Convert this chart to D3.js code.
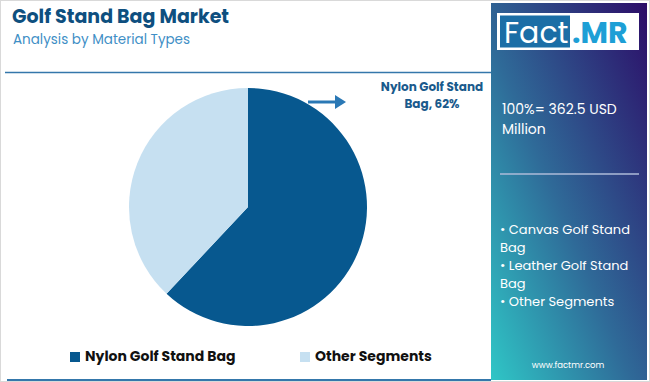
<!DOCTYPE html>
<html>
<head>
<meta charset="utf-8">
<script src="https://cdn.jsdelivr.net/npm/d3@7"></script>
<style>
  body { margin: 0; background: #fff; }
  svg { display: block; font-family: "Poppins", "Inter", "Open Sans", sans-serif; }
</style>
</head>
<body>
<div id="chart"></div>
<script>
var svgWidth = 650;
var svgHeight = 382;

// data
var segments = ["Nylon Golf Stand Bag", "Other Segments"];
var shares = [62, 38];
var colors = ["#07588f", "#c6e0f1"];
var otherItems = ["Canvas Golf Stand Bag", "Leather Golf Stand Bag", "Other Segments"];

var svg = d3.select("#chart")
  .append("svg")
  .attr("width", svgWidth)
  .attr("height", svgHeight);

var defs = svg.append("defs");
var grad = defs.append("linearGradient")
  .attr("id", "side")
  .attr("x1", "0%").attr("y1", "100%")
  .attr("x2", "100%").attr("y2", "0%");
grad.append("stop").attr("offset", "0%").attr("stop-color", "#2fc6c6");
grad.append("stop").attr("offset", "45%").attr("stop-color", "#2f6a98");
grad.append("stop").attr("offset", "100%").attr("stop-color", "#2c0d68");

// outer frame
svg.append("rect")
  .attr("x", 0.5).attr("y", 0.5)
  .attr("width", svgWidth - 1).attr("height", svgHeight - 1)
  .attr("fill", "none")
  .attr("stroke", "#d9d9d9");

// title
svg.append("text")
  .attr("x", 12).attr("y", 23)
  .attr("font-size", 19)
  .attr("font-weight", 700)
  .attr("fill", "#0e4f7f")
  .text("Golf Stand Bag Market");

svg.append("text")
  .attr("x", 13).attr("y", 44)
  .attr("font-size", 13.5)
  .attr("fill", "#3f8fc6")
  .text("Analysis by Material Types");

// rules
svg.append("line")
  .attr("x1", 5).attr("x2", 491)
  .attr("y1", 72.5).attr("y2", 72.5)
  .attr("stroke", "#3477ab").attr("stroke-width", 1.5);

svg.append("line")
  .attr("x1", 7).attr("x2", 491)
  .attr("y1", 380).attr("y2", 380)
  .attr("stroke", "#3477ab").attr("stroke-width", 2);

// pie
var radius = 119;
var pieGroup = svg.append("g")
  .attr("transform", "translate(248, 207)");

var pie = d3.pie().sort(null).value(d => d);
var arc = d3.arc().innerRadius(0).outerRadius(radius);

pieGroup.selectAll("path")
  .data(pie(shares))
  .enter()
  .append("path")
  .attr("d", arc)
  .attr("fill", (d, i) => colors[i]);

// arrow + label
svg.append("line")
  .attr("x1", 308).attr("x2", 337)
  .attr("y1", 102).attr("y2", 102)
  .attr("stroke", "#2a78b5").attr("stroke-width", 3);
svg.append("path")
  .attr("d", "M335,95 L346,102 L335,109 Z")
  .attr("fill", "#2a78b5");

var lbl = svg.append("text")
  .attr("text-anchor", "middle")
  .attr("font-size", 12)
  .attr("font-weight", 700)
  .attr("fill", "#1a5a8c");
lbl.append("tspan").attr("x", 432).attr("y", 91).text("Nylon Golf Stand");
lbl.append("tspan").attr("x", 432).attr("y", 108).text("Bag, " + shares[0] + "%");

// legend
var legendX = [70, 300];
var legend = svg.selectAll(".legend")
  .data(segments)
  .enter()
  .append("g")
  .attr("class", "legend")
  .attr("transform", (d, i) => `translate(${legendX[i]}, 352)`);

legend.append("rect")
  .attr("width", 10).attr("height", 10)
  .attr("fill", (d, i) => colors[i]);

legend.append("text")
  .attr("x", 15).attr("y", 9)
  .attr("font-size", 14)
  .attr("font-weight", 700)
  .attr("fill", "#111")
  .text(d => d);

// side panel
svg.append("rect")
  .attr("x", 491).attr("y", 3)
  .attr("width", 156).attr("height", 377)
  .attr("fill", "url(#side)");

svg.append("rect")
  .attr("x", 497).attr("y", 13)
  .attr("width", 142).attr("height", 37)
  .attr("fill", "#fff");
svg.append("rect")
  .attr("x", 500).attr("y", 15.5)
  .attr("width", 70).attr("height", 32)
  .attr("fill", "#1b6ea6");
svg.append("text")
  .attr("x", 504).attr("y", 43)
  .attr("font-size", 30)
  .attr("fill", "#fff")
  .text("Fact");
svg.append("text")
  .attr("x", 572).attr("y", 43)
  .attr("font-size", 30)
  .attr("font-weight", 700)
  .attr("fill", "#1d9fd6")
  .text(".MR");

var total = svg.append("text")
  .attr("font-size", 14)
  .attr("fill", "#fff");
total.append("tspan").attr("x", 502).attr("y", 114).text("100%= 362.5 USD");
total.append("tspan").attr("x", 502).attr("y", 134).text("Million");

svg.append("line")
  .attr("x1", 500).attr("x2", 639)
  .attr("y1", 174).attr("y2", 174)
  .attr("stroke", "#aebbd9").attr("stroke-width", 1.5);

var bulletLines = [];
otherItems.forEach(function(item) {
  var words = item.split(" ");
  if (words.length > 3) {
    bulletLines.push("• " + words.slice(0, 3).join(" "));
    bulletLines.push(words.slice(3).join(" "));
  } else {
    bulletLines.push("• " + item);
  }
});

svg.append("g").selectAll("text")
  .data(bulletLines)
  .enter()
  .append("text")
  .attr("x", 500)
  .attr("y", (d, i) => 234 + i * 18)
  .attr("font-size", 13)
  .attr("fill", "#fff")
  .text(d => d);

svg.append("text")
  .attr("x", 568).attr("y", 368)
  .attr("text-anchor", "middle")
  .attr("font-size", 8.5)
  .attr("fill", "#fff")
  .text("www.factmr.com");
</script>
</body>
</html>
